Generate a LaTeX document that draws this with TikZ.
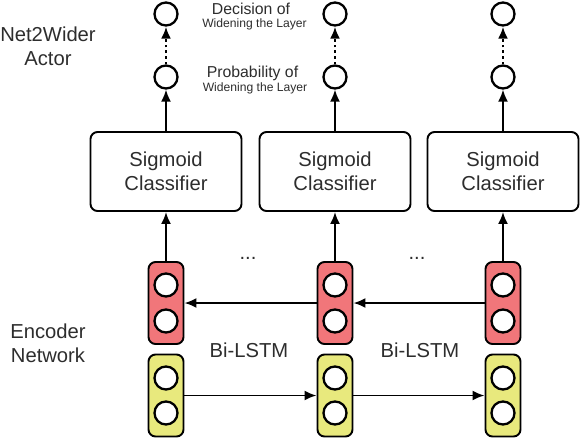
\documentclass[tikz,border=0pt]{standalone}
\usepackage{fontspec}
\setmainfont{Liberation Sans}
\usetikzlibrary{arrows.meta, positioning, calc}

\definecolor{lstmred}{RGB}{241,118,122}
\definecolor{lstmyel}{RGB}{232,233,125}
\definecolor{txtgray}{RGB}{45,45,45}

\begin{document}
\begin{tikzpicture}[
    font=\fontsize{11.5}{13.5}\selectfont,
    text=txtgray,
    % Shapes
    unit/.style={circle, draw=black, line width=1.3pt, fill=white, minimum size=0.46cm, inner sep=0pt},
    cls/.style={draw=black, line width=1.1pt, rounded corners=4pt, fill=white, minimum width=3.02cm, minimum height=1.58cm, align=center},
    bwd/.style={draw=black, line width=1.1pt, rounded corners=4pt, fill=lstmred, minimum width=0.7cm, minimum height=1.64cm},
    fwd/.style={draw=black, line width=1.1pt, rounded corners=4pt, fill=lstmyel, minimum width=0.7cm, minimum height=1.64cm},
    % Arrows
    arr/.style={line width=1.1pt, -{Latex[length=2.4mm,width=2mm]}},
    darr/.style={line width=1.6pt, dash pattern=on 1.6pt off 1.6pt, -{Latex[length=2.4mm,width=2mm]}},
    small/.style={font=\fontsize{9}{10}\selectfont},
    tiny/.style={font=\fontsize{6.9}{8}\selectfont}
]
\useasboundingbox (0,0) rectangle (11.62,-8.82);

% ===============================
% Column 1
% ===============================
\node[cls] (cls1) at (3.32,-3.43) {Sigmoid\\Classifier};
\node[unit] (prob1) at (3.32,-1.54) {};
\node[unit] (dec1) at (3.32,-0.28) {};
\node[bwd] (bwd1) at (3.32,-6.06) {};
\node[unit] (b1a) at (3.32,-5.70) {};
\node[unit] (b1b) at (3.32,-6.42) {};
\node[fwd] (fwd1) at (3.32,-7.91) {};
\node[unit] (f1a) at (3.32,-7.56) {};
\node[unit] (f1b) at (3.32,-8.26) {};

\draw[arr] (bwd1.north) -- (cls1.south);
\draw[arr] (cls1.north) -- (prob1.south);
\draw[darr] (prob1.north) -- (dec1.south);

% ===============================
% Column 2
% ===============================
\node[cls] (cls2) at (6.70,-3.43) {Sigmoid\\Classifier};
\node[unit] (prob2) at (6.70,-1.54) {};
\node[unit] (dec2) at (6.70,-0.28) {};
\node[bwd] (bwd2) at (6.70,-6.06) {};
\node[unit] (b2a) at (6.70,-5.70) {};
\node[unit] (b2b) at (6.70,-6.42) {};
\node[fwd] (fwd2) at (6.70,-7.91) {};
\node[unit] (f2a) at (6.70,-7.56) {};
\node[unit] (f2b) at (6.70,-8.26) {};

\draw[arr] (bwd2.north) -- (cls2.south);
\draw[arr] (cls2.north) -- (prob2.south);
\draw[darr] (prob2.north) -- (dec2.south);

% ===============================
% Column 3
% ===============================
\node[cls] (cls3) at (10.06,-3.43) {Sigmoid\\Classifier};
\node[unit] (prob3) at (10.06,-1.54) {};
\node[unit] (dec3) at (10.06,-0.28) {};
\node[bwd] (bwd3) at (10.06,-6.06) {};
\node[unit] (b3a) at (10.06,-5.70) {};
\node[unit] (b3b) at (10.06,-6.42) {};
\node[fwd] (fwd3) at (10.06,-7.91) {};
\node[unit] (f3a) at (10.06,-7.56) {};
\node[unit] (f3b) at (10.06,-8.26) {};

\draw[arr] (bwd3.north) -- (cls3.south);
\draw[arr] (cls3.north) -- (prob3.south);
\draw[darr] (prob3.north) -- (dec3.south);

% Recurrent links
\draw[arr] (bwd2.west) -- (bwd1.east);
\draw[arr] (bwd3.west) -- (bwd2.east);
\draw[arr] (fwd1.east) -- (fwd2.west);
\draw[arr] (fwd2.east) -- (fwd3.west);

% Labels
\node[align=center] (actor) at (0.96,-0.93) {Net2Wider\\Actor};
\node[align=center] (enc) at (0.96,-6.86) {Encoder\\Network};
\node[small] (decl) at (5.02,-0.17) {Decision of};
\node[tiny] (decw) at (5.09,-0.48) {Widening the Layer};
\node[small] (probl) at (5.05,-1.47) {Probability of};
\node[tiny] (probw) at (5.10,-1.77) {Widening the Layer};
\node (dots1) at (4.96,-5.16) {...};
\node (dots2) at (8.34,-5.16) {...};
\node (bil1) at (4.98,-7.00) {Bi-LSTM};
\node (bil2) at (8.40,-7.00) {Bi-LSTM};

\end{tikzpicture}
\end{document}
